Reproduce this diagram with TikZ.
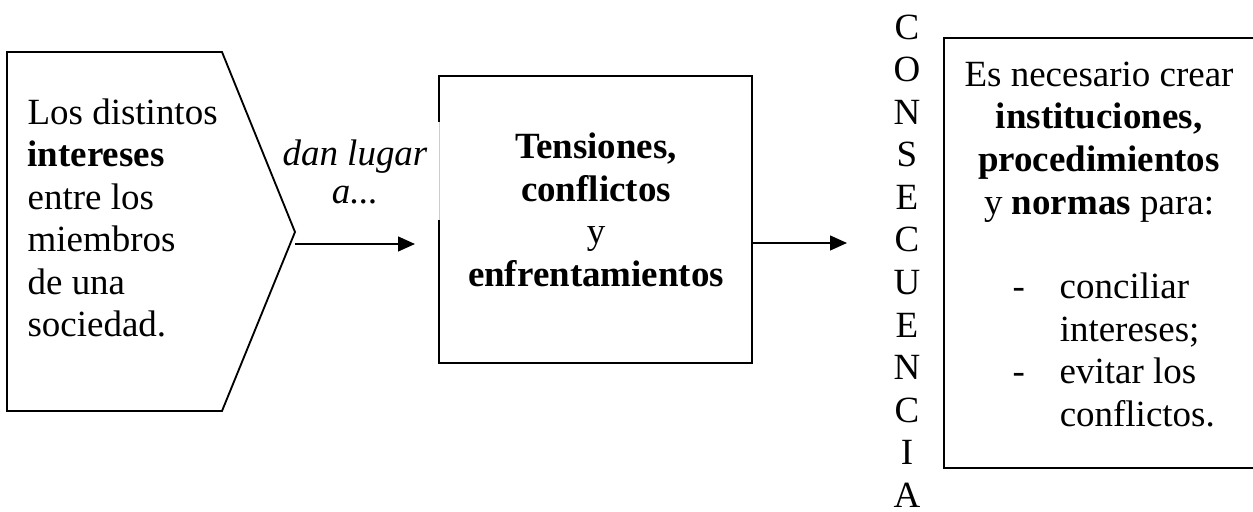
\documentclass[tikz,border=0pt]{standalone}
\usepackage{fontspec}
\setmainfont{Liberation Serif}
\usetikzlibrary{arrows.meta}
\begin{document}
\begin{tikzpicture}[>={Triangle[length=5.5pt,width=4.8pt]},x=0.3246pt,y=-0.3246pt,
  caja/.style={line width=0.6pt},
  flecha/.style={->,line width=0.6pt},
  texto/.style={inner sep=0pt,font=\fontsize{12}{13.8}\selectfont}]
\useasboundingbox (0,0) rectangle (1253,512);
% izquierda
\draw[caja] (7,52) -- (222,52) -- (295,232) -- (222,411) -- (7,411) -- cycle;
\node[texto,align=left,anchor=west] (intereses) at (27,218) {Los distintos\\\textbf{intereses}\\entre los\\miembros\\de una\\sociedad.};
\node[texto,align=center,font=\fontsize{12}{12.5}\selectfont] (lugar) at (355,172) {\textit{dan lugar}\\\textit{a...}};
% centro
\draw[caja] (439,122) -- (439,76) -- (752,76) -- (752,363) -- (439,363) -- (439,220);
\draw[gray!40,line width=0.3pt] (439,122) -- (439,220);
\node[texto,align=center] (tensiones) at (596,210) {\textbf{Tensiones,}\\\textbf{conflictos}\\y\\\textbf{enfrentamientos}};
% flechas
\coordinate (pico) at (295,244);
\coordinate (entra) at (415,244);
\coordinate (sale) at (752,243);
\coordinate (llega) at (847,243);
\draw[flecha] (pico) -- (entra);
\draw[flecha] (sale) -- (llega);
\node[texto,align=center] (consecuencia) at (907,261) {C\\O\\N\\S\\E\\C\\U\\E\\N\\C\\I\\A};
% derecha
\draw[caja] (1260,38) -- (944,38) -- (944,468) -- (1260,468);
\node[texto,align=center] (crear) at (1099,142) {Es necesario crear\\\textbf{instituciones,}\\\textbf{procedimientos}\\y \textbf{normas} para:};
\node[texto,align=left,anchor=west] (fines) at (1012,350) {\makebox[15.3pt][l]{-}conciliar\\\hspace*{15.3pt}intereses;\\\makebox[15.3pt][l]{-}evitar los\\\hspace*{15.3pt}conflictos.};
\end{tikzpicture}
\end{document}
